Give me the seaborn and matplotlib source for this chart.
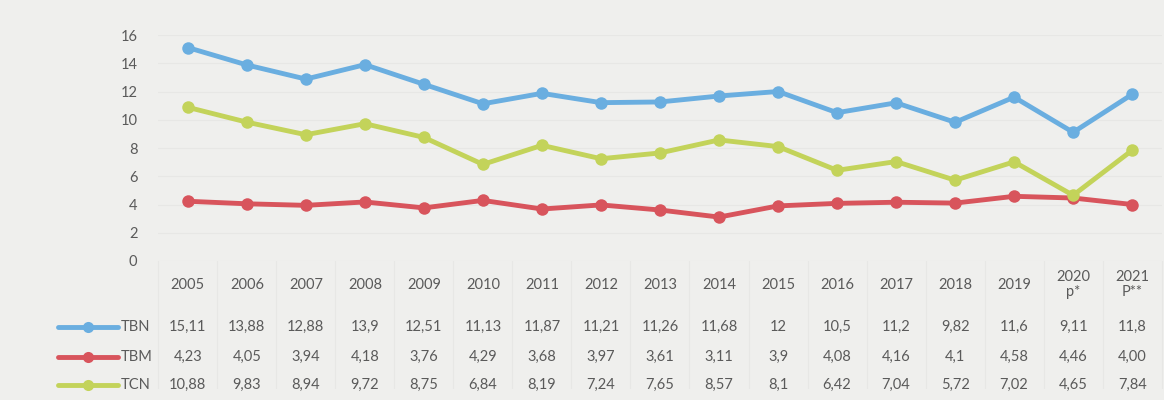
#-----------------------------------------------------------------
# Required Python Packages
#-----------------------------------------------------------------

import pandas as pd
import matplotlib
matplotlib.use("Agg")
import matplotlib.pyplot as plt
from matplotlib.lines import Line2D
import seaborn as sns

#-----------------------------------------------------------------
# Data
#-----------------------------------------------------------------

YEARS = ["2005", "2006", "2007", "2008", "2009", "2010", "2011", "2012",
         "2013", "2014", "2015", "2016", "2017", "2018", "2019", "2020\np*", "2021\nP**"]

TBN = [15.11, 13.88, 12.88, 13.9, 12.51, 11.13, 11.87, 11.21,
       11.26, 11.68, 12, 10.5, 11.2, 9.82, 11.6, 9.11, 11.8]
TBM = [4.23, 4.05, 3.94, 4.18, 3.76, 4.29, 3.68, 3.97,
       3.61, 3.11, 3.9, 4.08, 4.16, 4.1, 4.58, 4.46, 4.00]
TCN = [10.88, 9.83, 8.94, 9.72, 8.75, 6.84, 8.19, 7.24,
       7.65, 8.57, 8.1, 6.42, 7.04, 5.72, 7.02, 4.65, 7.84]

# table text as printed
TBN_TXT = ["15,11", "13,88", "12,88", "13,9", "12,51", "11,13", "11,87", "11,21",
           "11,26", "11,68", "12", "10,5", "11,2", "9,82", "11,6", "9,11", "11,8"]
TBM_TXT = ["4,23", "4,05", "3,94", "4,18", "3,76", "4,29", "3,68", "3,97",
           "3,61", "3,11", "3,9", "4,08", "4,16", "4,1", "4,58", "4,46", "4,00"]
TCN_TXT = ["10,88", "9,83", "8,94", "9,72", "8,75", "6,84", "8,19", "7,24",
           "7,65", "8,57", "8,1", "6,42", "7,04", "5,72", "7,02", "4,65", "7,84"]

SERIES = ["TBN", "TBM", "TCN"]
COLORS = {"TBN": "#6aaee0", "TBM": "#d8545c", "TCN": "#c3d35a"}

BG = "#efefed"
TXT = "#5a5a5a"

#-----------------------------------------------------------------
# Build long-form frame
#-----------------------------------------------------------------

rows = []
for name, vals in zip(SERIES, [TBN, TBM, TCN]):
    for i, v in enumerate(vals):
        rows.append({"idx": i, "value": v, "serie": name})
df = pd.DataFrame(rows)

sns.set_theme(style="white")
plt.rcParams["font.family"] = ["Lato", "DejaVu Sans"]

fig = plt.figure(figsize=(11.64, 4.0), dpi=100, facecolor=BG)
ax = fig.add_axes([0.136, 0.3475, 0.862, 0.565])
ax.set_facecolor(BG)

sns.lineplot(data=df, x="idx", y="value", hue="serie", palette=COLORS,
             marker="o", markersize=9, markeredgewidth=0, linewidth=3.5,
             legend=False, ax=ax)

n = len(YEARS)
ax.set_xlim(-0.5, n - 0.5)
ax.set_ylim(0, 16)
ax.set_yticks(range(0, 17, 2))
ax.set_xticks(range(n))
ax.set_xticklabels(YEARS, fontsize=10.5, color=TXT, linespacing=1.1, va="center")
ax.tick_params(axis="y", labelsize=10.5, labelcolor=TXT, length=0, pad=15)
ax.tick_params(axis="x", length=0, pad=17)
ax.yaxis.grid(True, color="#e7e7e5", linewidth=0.8)
ax.set_xlabel("")
ax.set_ylabel("")
for s in ax.spines.values():
    s.set_visible(False)

# faint vertical table separators
for i in range(n + 1):
    x = i - 0.5
    ax.plot([x, x], [0, -9], color="#e7e7e5", linewidth=0.8,
            clip_on=False, transform=ax.transData)

# data table rows
row_y = [0.1825, 0.1075, 0.0375]
trans = matplotlib.transforms.blended_transform_factory(ax.transData, fig.transFigure)
for name, texts, yy in zip(SERIES, [TBN_TXT, TBM_TXT, TCN_TXT], row_y):
    for i, t in enumerate(texts):
        ax.text(i, yy, t, transform=trans, ha="center", va="center",
                fontsize=10.5, color=TXT)
    fig.add_artist(Line2D([58 / 1164, 118 / 1164], [yy, yy], color=COLORS[name],
                          linewidth=3.5, transform=fig.transFigure))
    fig.add_artist(Line2D([88 / 1164], [yy], color=COLORS[name], marker="o",
                          markersize=8, markeredgewidth=0, transform=fig.transFigure))
    fig.text(121 / 1164, yy, name, ha="left", va="center", fontsize=10.5, color=TXT)

fig.savefig("out.png", dpi=100, facecolor=BG)
